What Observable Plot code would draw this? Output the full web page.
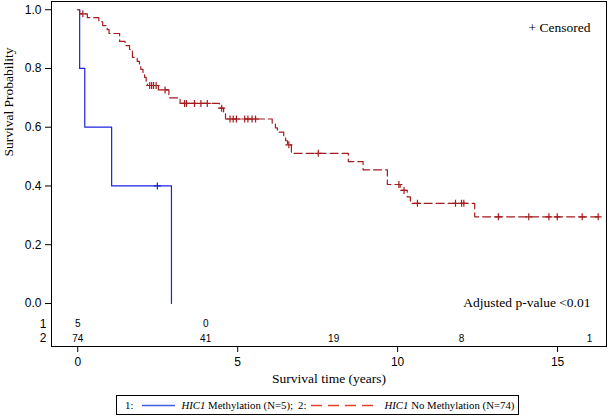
<!DOCTYPE html>
<html><head><meta charset="utf-8">
<script src="https://cdn.jsdelivr.net/npm/d3@7"></script>
<script src="https://cdn.jsdelivr.net/npm/@observablehq/plot@0.6"></script>
<style>
body{margin:0;background:#fff;}
#wrap{position:relative;width:609px;height:417px;overflow:hidden;}
#legend{position:absolute;left:116px;top:395px;width:403px;height:20px;border:1px solid #000;font-family:"Liberation Serif","Times New Roman",serif;font-size:10.8px;color:#000;display:flex;align-items:center;padding-left:8px;box-sizing:border-box;white-space:nowrap;}
#legend svg{display:block;flex:none;}
</style></head><body>
<div id="wrap"><div id="chart"></div>
<div id="legend">
 <span>1:</span>
 <svg style="margin-left:9px" width="33" height="20"><line x1="0" x2="33" y1="10.5" y2="10.5" style="stroke:#3f5fe8;stroke-width:1.5px"/></svg>
 <span style="margin-left:6px"><i>HIC1</i> Methylation (N=5);</span>
 <span style="margin-left:5px">2:</span>
 <svg style="margin-left:5px" width="65" height="20"><line x1="0" x2="65" y1="10.5" y2="10.5" style="stroke:#e8402f;stroke-width:1.5px;stroke-dasharray:11,6"/></svg>
 <span style="margin-left:8px"><i>HIC1</i> No Methylation (N=74)</span>
</div>
</div>
<script>
// Group 1: HIC1 Methylation (N=5)
const methTime = [0, 0.06, 0.22, 1.06, 2.93];
const methSurv = [1.0, 0.8, 0.6, 0.4, 0.0];
const methCensor = [2.49];

// Group 2: HIC1 No Methylation (N=74)
const noMethTime = [0, 0.06, 0.30, 0.66, 0.78, 0.92, 0.98, 1.31, 1.48, 1.62, 1.71, 1.86, 1.93, 1.97, 2.04, 2.09, 2.14, 2.18, 2.52, 2.85, 3.20, 4.43, 4.56, 4.62, 6.08, 6.18, 6.24, 6.44, 6.50, 6.56, 6.68, 8.46, 8.92, 9.68, 10.08, 10.30, 10.40, 12.41, 16.40];
const noMethSurv = [1.0, 0.986, 0.973, 0.959, 0.946, 0.932, 0.919, 0.892, 0.878, 0.865, 0.838, 0.824, 0.811, 0.797, 0.784, 0.770, 0.756, 0.742, 0.727, 0.700, 0.681, 0.665, 0.646, 0.628, 0.613, 0.598, 0.583, 0.568, 0.554, 0.540, 0.511, 0.483, 0.455, 0.405, 0.385, 0.363, 0.341, 0.295, 0.295];
const noMethCensor = [0.16, 2.25, 2.31, 2.37, 2.45, 2.73, 3.34, 3.40, 3.65, 3.85, 4.05, 4.50, 4.76, 4.86, 4.96, 5.22, 5.32, 5.45, 5.56, 6.60, 7.52, 10.04, 10.20, 10.62, 11.81, 12.00, 12.07, 13.15, 14.10, 14.73, 14.99, 15.77, 16.27];

// Number at risk table
const riskTimes = [0, 4, 8, 12, 16];
const riskGroup1 = [5, 0, null, null, null];
const riskGroup2 = [74, 41, 19, 8, 1];
const groupLabels = ["1", "2"];

const BLUE = "#1e22e0", RED = "#a51b1f";
const serif = "Liberation Serif, Times New Roman, serif";

const toRows = (ts, ss) => ts.map((t, i) => ({t, s: ss[i]}));
const stepAt = (ts, ss, t) => { let v = ss[0]; for (let i = 0; i < ts.length; i++) if (ts[i] <= t) v = ss[i]; return v; };
const methLine = toRows(methTime, methSurv);
const noMethLine = toRows(noMethTime, noMethSurv);
const methCens = methCensor.map(t => ({t, s: stepAt(methTime, methSurv, t)}));
const noMethCens = noMethCensor.map(t => ({t, s: stepAt(noMethTime, noMethSurv, t)}));

const yRow1 = -0.070, yRow2 = -0.119;
const risk1 = riskTimes.map((t, i) => ({t, n: riskGroup1[i]})).filter(d => d.n != null);
const risk2 = riskTimes.map((t, i) => ({t, n: riskGroup2[i]})).filter(d => d.n != null);

const plusSym = {draw(ctx) { const r = 3.5; ctx.moveTo(-r, 0); ctx.lineTo(r, 0); ctx.moveTo(0, -r); ctx.lineTo(0, r); }};

const chart = Plot.plot({
  width: 609, height: 393,
  marginLeft: 51, marginRight: 3, marginTop: 1, marginBottom: 47,
  style: {fontFamily: "Liberation Sans, Arial, sans-serif", fontSize: "12px", color: "#000", background: "#fff"},
  x: {domain: [-0.82, 16.53], ticks: [0, 5, 10, 15], tickSize: 6, tickPadding: 5, label: null},
  y: {domain: [-0.1465, 1.028], ticks: [0, 0.2, 0.4, 0.6, 0.8, 1.0], tickFormat: d3.format(".1f"), tickSize: 6, tickPadding: 4, label: null},
  marks: [
    Plot.frame({stroke: "#000"}),
    Plot.line(methLine, {x: "t", y: "s", curve: "step-after", stroke: BLUE, strokeWidth: 1.2}),
    Plot.line(noMethLine, {x: "t", y: "s", curve: "step-after", stroke: RED, strokeWidth: 1.2, strokeDasharray: "8,4"}),
    Plot.dot(methCens, {x: "t", y: "s", symbol: plusSym, fill: "none", stroke: BLUE, strokeWidth: 1.2}),
    Plot.dot(noMethCens, {x: "t", y: "s", symbol: plusSym, fill: "none", stroke: RED, strokeWidth: 1.2}),
    Plot.text(risk1, {x: "t", y: yRow1, text: d => String(d.n), fontSize: 10, fill: "#000"}),
    Plot.text(risk2, {x: "t", y: yRow2, text: d => String(d.n), fontSize: 10, fill: "#000"}),
    Plot.text([groupLabels[0]], {frameAnchor: "left", y: yRow1, text: d => d, dx: -5, textAnchor: "end", fontSize: 12}),
    Plot.text([groupLabels[1]], {frameAnchor: "left", y: yRow2, text: d => d, dx: -5, textAnchor: "end", fontSize: 12}),
    Plot.text(["Survival Probability"], {frameAnchor: "left", y: 0.5, text: d => d, rotate: -90, dx: -43, fontFamily: serif, fontSize: 13.5}),
    Plot.text(["Survival time (years)"], {frameAnchor: "bottom", text: d => d, dy: 36, fontFamily: serif, fontSize: 13.5}),
    Plot.text(["+ Censored"], {frameAnchor: "top-right", text: d => d, dx: -16, dy: 21, textAnchor: "end", fontFamily: serif, fontSize: 13.5}),
    Plot.text(["Adjusted p-value <0.01"], {frameAnchor: "bottom-right", text: d => d, dx: -16, dy: -40, textAnchor: "end", fontFamily: serif, fontSize: 13.5})
  ]
});
document.getElementById("chart").appendChild(chart);
</script>
</body></html>
